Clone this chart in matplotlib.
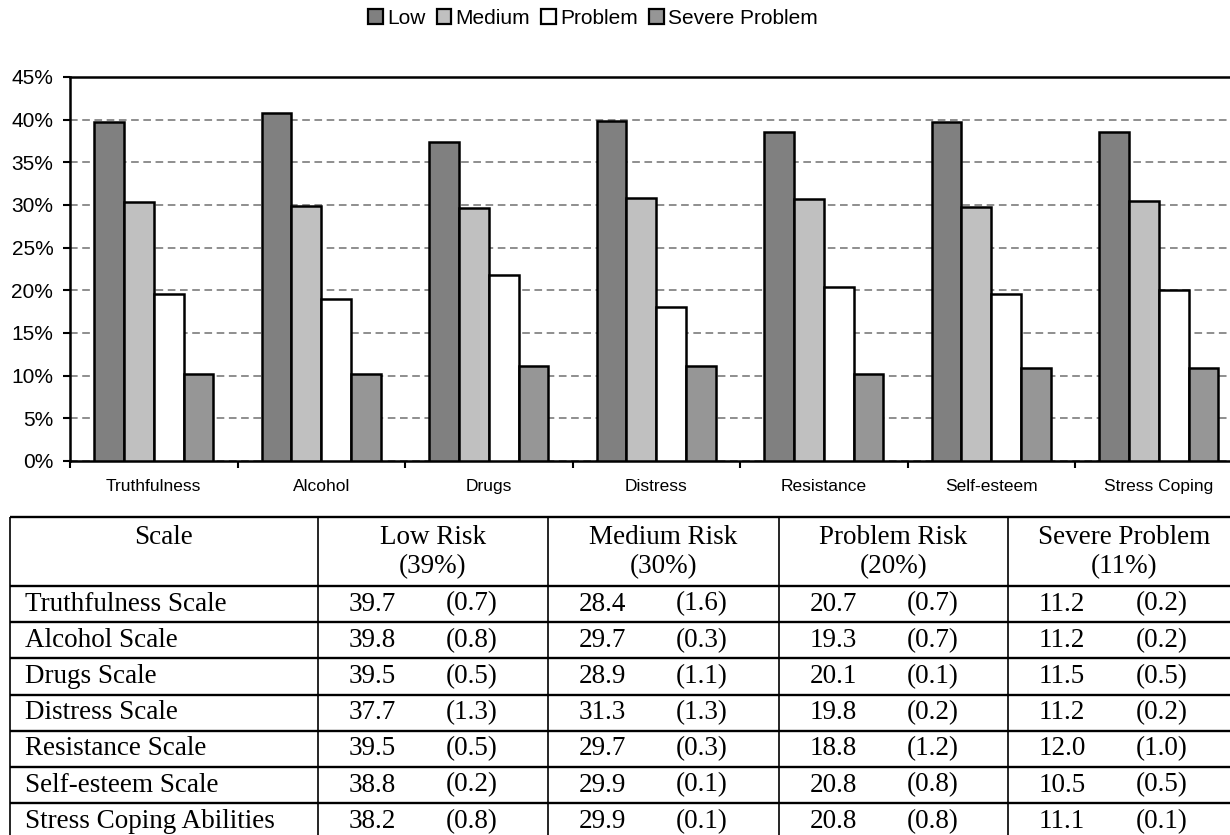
import numpy as np
import matplotlib.pyplot as plt
from matplotlib.patches import Patch

# chart data (percent)
categories = ['Truthfulness', 'Alcohol', 'Drugs', 'Distress', 'Resistance', 'Self-esteem', 'Stress Coping']
low = [39.7, 40.8, 37.4, 39.9, 38.5, 39.7, 38.5]
medium = [30.4, 29.9, 29.6, 30.8, 30.7, 29.8, 30.5]
problem = [19.6, 19.0, 21.8, 18.0, 20.4, 19.6, 20.0]
severe = [10.2, 10.2, 11.1, 11.1, 10.2, 10.9, 10.9]
series_names = ['Low', 'Medium', 'Problem', 'Severe Problem']
series_colors = ['#808080', '#c0c0c0', '#ffffff', '#969696']

# table data
row_labels = ['Truthfulness Scale', 'Alcohol Scale', 'Drugs Scale', 'Distress Scale',
              'Resistance Scale', 'Self-esteem Scale', 'Stress Coping Abilities']
col_titles = ['Low Risk', 'Medium Risk', 'Problem Risk', 'Severe Problem']
col_pcts = [39, 30, 20, 11]
low_mean = [39.7, 39.8, 39.5, 37.7, 39.5, 38.8, 38.2]
low_dev = [0.7, 0.8, 0.5, 1.3, 0.5, 0.2, 0.8]
med_mean = [28.4, 29.7, 28.9, 31.3, 29.7, 29.9, 29.9]
med_dev = [1.6, 0.3, 1.1, 1.3, 0.3, 0.1, 0.1]
prob_mean = [20.7, 19.3, 20.1, 19.8, 18.8, 20.8, 20.8]
prob_dev = [0.7, 0.7, 0.1, 0.2, 1.2, 0.8, 0.8]
sev_mean = [11.2, 11.2, 11.5, 11.2, 12.0, 10.5, 11.1]
sev_dev = [0.2, 0.2, 0.5, 0.2, 1.0, 0.5, 0.1]

W, H = 1230, 835
fig = plt.figure(figsize=(W / 100, H / 100), dpi=100)
plt.rcParams['font.family'] = ['Liberation Sans', 'DejaVu Sans']

# ---- bar chart ----
ax = fig.add_axes([70 / W, (H - 461) / H, 1172.5 / W, 384 / H])
x = np.arange(len(categories)) + 0.5
bw = 0.178
for k, (vals, col) in enumerate(zip([low, medium, problem, severe], series_colors)):
    ax.bar(x + (k - 1.5) * bw, vals, bw, color=col, edgecolor='black', linewidth=1.8, zorder=3)

ax.set_xlim(0, len(categories))
ax.set_ylim(0, 45)
ax.set_yticks(np.arange(0, 46, 5))
ax.set_yticklabels([f'{v}%' for v in range(0, 46, 5)], fontsize=15)
ax.yaxis.grid(True, color='#707070', linestyle=(0, (5, 3)), linewidth=1.1, zorder=0)
ax.set_xticks(np.arange(len(categories) + 1))
ax.set_xticklabels([])
ax.set_xticks(x, minor=True)
ax.set_xticklabels(categories, minor=True, fontsize=12.5)
ax.tick_params(axis='x', which='minor', length=0, pad=13)
ax.tick_params(axis='x', which='major', length=5, width=1.5, direction='out')
ax.tick_params(axis='y', length=5, width=1.5, direction='out', pad=7)
for s in ['top', 'left', 'bottom']:
    ax.spines[s].set_linewidth(1.8)
ax.spines['right'].set_visible(False)

handles = [Patch(facecolor=c, edgecolor='black', linewidth=1.6) for c in series_colors]
fig.legend(handles, series_names, loc='center', bbox_to_anchor=(593 / W, 1 - 18 / H),
           ncol=4, frameon=False, fontsize=15, handlelength=0.7, handleheight=0.7,
           handletextpad=0.2, columnspacing=0.55)

# ---- table ----
tx = fig.add_axes([0, 0, 1, 1])
tx.set_xlim(0, W)
tx.set_ylim(H, 0)
tx.axis('off')
tx.patch.set_alpha(0)

col_x = [10, 318, 548, 779, 1008, 1240]
top, head_bot, row_h = 517, 586, 36.2
row_lines = [top] + [head_bot + i * row_h for i in range(len(row_labels) + 1)]
tx.hlines(row_lines, col_x[0], col_x[-1], color='black', linewidth=1.7)
tx.vlines(col_x, top, H + 10, color='black', linewidth=1.2)

serif = ['Liberation Serif', 'DejaVu Serif']
fs = 19.5
tx.text((col_x[0] + col_x[1]) / 2, 537, 'Scale', ha='center', va='center', fontsize=fs, family=serif)
for j, (t, p) in enumerate(zip(col_titles, col_pcts)):
    cx = (col_x[j + 1] + col_x[j + 2]) / 2
    tx.text(cx, 537, t, ha='center', va='center', fontsize=fs, family=serif)
    tx.text(cx, 567, f'({p}%)', ha='center', va='center', fontsize=fs, family=serif)

means = [low_mean, med_mean, prob_mean, sev_mean]
devs = [low_dev, med_dev, prob_dev, sev_dev]
for i, lab in enumerate(row_labels):
    cy = head_bot + (i + 0.5) * row_h
    tx.text(col_x[0] + 15, cy, lab, ha='left', va='center', fontsize=fs, family=serif)
    for j in range(4):
        left = col_x[j + 1]
        tx.text(left + 31, cy, f'{means[j][i]:.1f}', ha='left', va='center', fontsize=fs, family=serif)
        tx.text(left + 128, cy, f'({devs[j][i]:.1f})', ha='left', va='center', fontsize=fs, family=serif)

fig.savefig('out.png', dpi=100)
